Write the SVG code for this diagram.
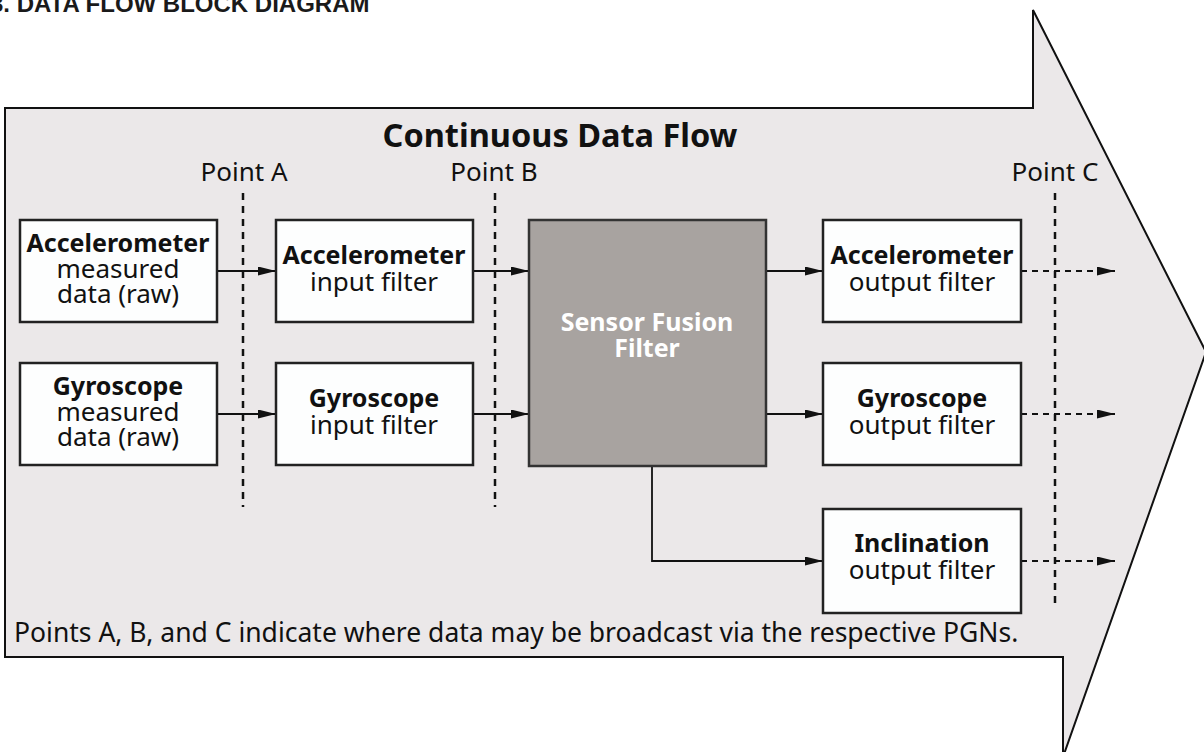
<svg xmlns="http://www.w3.org/2000/svg" width="1204" height="752" viewBox="0 0 1204 752">
<style>
.t{font-family:"Noto Sans","Open Sans",sans-serif;fill:#111;font-size:26px;}
.b{font-weight:bold;font-size:25px;}
.box{fill:#fdfefe;stroke:#222;stroke-width:2.5;}
.fusion{fill:#a8a3a0;stroke:#333;stroke-width:2.5;}
.cn{stroke:#111;stroke-width:1.8;fill:none;}
.dash{stroke:#111;stroke-width:1.8;fill:none;stroke-dasharray:6 5;}
.pt{stroke:#111;stroke-width:2.5;fill:none;stroke-dasharray:7 6;}
</style>
<defs>
<marker id="ah" markerUnits="userSpaceOnUse" markerWidth="20" markerHeight="10" refX="18" refY="4.5" orient="auto">
<path d="M0,0 L18,4.5 L0,9 Z" fill="#111"/>
</marker>
</defs>
<rect width="1204" height="752" fill="#fff"/>
<text x="-10" y="12" style="font-family:'Liberation Sans',Arial,sans-serif;font-size:24px;font-weight:bold;fill:#1a1a1a">3. DATA FLOW BLOCK DIAGRAM</text>
<g id="flow-arrow">
<polygon points="5,108 1033,108 1033,10 1206,352 1063,757 1063,657 5,657" fill="#ebe8e9" stroke="#111" stroke-width="2"/>
</g>
<text class="t" x="560" y="147" text-anchor="middle" style="font-weight:bold;font-size:32.5px">Continuous Data Flow</text>
<g id="points">
<text class="t" x="244" y="181" text-anchor="middle">Point A</text>
<text class="t" x="494" y="181" text-anchor="middle">Point B</text>
<text class="t" x="1055" y="181" text-anchor="middle">Point C</text>
<line class="pt" x1="243" y1="193" x2="243" y2="507"/>
<line class="pt" x1="495" y1="193" x2="495" y2="507"/>
<line class="pt" x1="1055" y1="193" x2="1055" y2="607"/>
</g>
<g id="connectors">
<line class="cn" x1="217" y1="271" x2="276" y2="271" marker-end="url(#ah)"/>
<line class="cn" x1="217" y1="414" x2="276" y2="414" marker-end="url(#ah)"/>
<line class="cn" x1="473" y1="271" x2="529" y2="271" marker-end="url(#ah)"/>
<line class="cn" x1="473" y1="414" x2="529" y2="414" marker-end="url(#ah)"/>
<line class="cn" x1="766" y1="271" x2="823" y2="271" marker-end="url(#ah)"/>
<line class="cn" x1="766" y1="414" x2="823" y2="414" marker-end="url(#ah)"/>
<polyline class="cn" points="652,466 652,561 823,561" marker-end="url(#ah)"/>
<line class="dash" x1="1021" y1="271" x2="1115" y2="271" marker-end="url(#ah)"/>
<line class="dash" x1="1021" y1="414" x2="1115" y2="414" marker-end="url(#ah)"/>
<line class="dash" x1="1021" y1="561" x2="1115" y2="561" marker-end="url(#ah)"/>
</g>
<g id="acc-raw">
<rect class="box" x="20" y="220" width="197" height="102"/>
<text class="t b" x="118" y="252" text-anchor="middle">Accelerometer</text>
<text class="t" x="118" y="278" text-anchor="middle">measured</text>
<text class="t" x="118" y="303" text-anchor="middle">data (raw)</text>
</g>
<g id="gyro-raw">
<rect class="box" x="20" y="363" width="197" height="102"/>
<text class="t b" x="118" y="395" text-anchor="middle">Gyroscope</text>
<text class="t" x="118" y="421" text-anchor="middle">measured</text>
<text class="t" x="118" y="446" text-anchor="middle">data (raw)</text>
</g>
<g id="acc-in">
<rect class="box" x="276" y="220" width="197" height="102"/>
<text class="t b" x="374" y="264" text-anchor="middle">Accelerometer</text>
<text class="t" x="374" y="291" text-anchor="middle">input filter</text>
</g>
<g id="gyro-in">
<rect class="box" x="276" y="363" width="197" height="102"/>
<text class="t b" x="374" y="407" text-anchor="middle">Gyroscope</text>
<text class="t" x="374" y="434" text-anchor="middle">input filter</text>
</g>
<g id="fusion">
<rect class="fusion" x="529" y="220" width="237" height="246"/>
<text class="t b" x="647" y="331" text-anchor="middle" style="fill:#fff">Sensor Fusion</text>
<text class="t b" x="647" y="357" text-anchor="middle" style="fill:#fff">Filter</text>
</g>
<g id="acc-out">
<rect class="box" x="823" y="220" width="198" height="102"/>
<text class="t b" x="922" y="264" text-anchor="middle">Accelerometer</text>
<text class="t" x="922" y="291" text-anchor="middle">output filter</text>
</g>
<g id="gyro-out">
<rect class="box" x="823" y="363" width="198" height="102"/>
<text class="t b" x="922" y="407" text-anchor="middle">Gyroscope</text>
<text class="t" x="922" y="434" text-anchor="middle">output filter</text>
</g>
<g id="incl-out">
<rect class="box" x="823" y="509" width="198" height="104"/>
<text class="t b" x="922" y="552" text-anchor="middle">Inclination</text>
<text class="t" x="922" y="579" text-anchor="middle">output filter</text>
</g>
<text class="t" x="14" y="642" style="font-size:26.5px">Points A, B, and C indicate where data may be broadcast via the respective PGNs.</text>
</svg>
